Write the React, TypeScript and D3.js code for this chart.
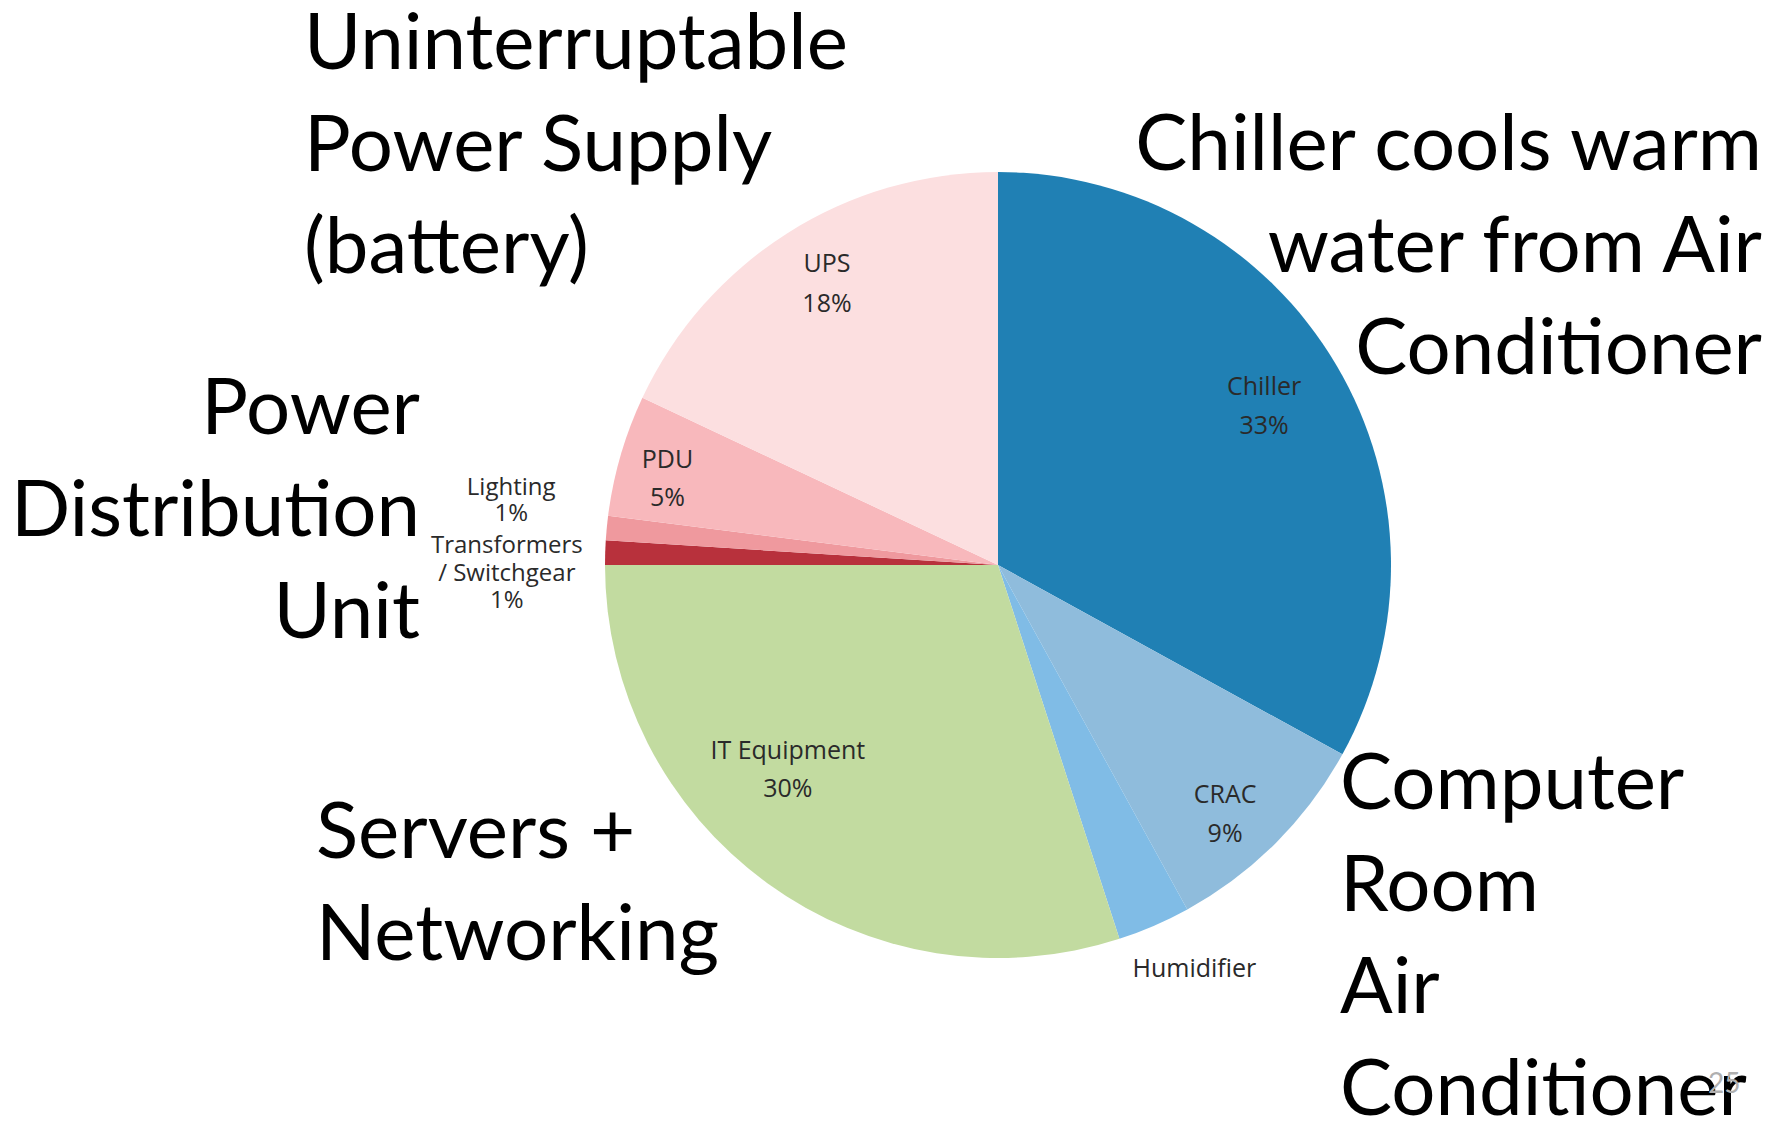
import React from "react";
import * as d3 from "d3";

// slices, clockwise from 12 o'clock
const categories = [
  "Chiller",
  "CRAC",
  "Humidifier",
  "IT Equipment",
  "Transformers / Switchgear",
  "Lighting",
  "PDU",
  "UPS",
];
const shares = [33, 9, 3, 30, 1, 1, 5, 18];
const sliceLabels = [
  ["Chiller", "33%"],
  ["CRAC", "9%"],
  ["Humidifier"],
  ["IT Equipment", "30%"],
  ["Transformers", "/ Switchgear", "1%"],
  ["Lighting", "1%"],
  ["PDU", "5%"],
  ["UPS", "18%"],
];
const sliceColors = [
  "#2080b4",
  "#8fbcdc",
  "#80bce6",
  "#c2dba0",
  "#b8313c",
  "#ef999e",
  "#f8b8bc",
  "#fcdfe0",
];

// big slide annotations
const notes = [
  ["Uninterruptable", "Power Supply", "(battery)"],
  ["Chiller cools warm", "water from Air", "Conditioner"],
  ["Power", "Distribution", "Unit"],
  ["Servers +", "Networking"],
  ["Computer", "Room", "Air", "Conditioner"],
];
const pageNumber = "25";

const width = 1785;
const height = 1121;
const cx = 998;
const cy = 565;
const radius = 393;

// where each slice label sits: fraction of radius, angle nudge (deg), line height, font size
const labelPlacement = {
  Chiller: { r: 0.79, da: -0.4, lh: 39, fs: 25 },
  CRAC: { r: 0.857, da: 2.6, lh: 39, fs: 25 },
  Humidifier: { r: 1.14, da: -2.6, lh: 39, fs: 25 },
  "IT Equipment": { r: 0.746, da: 9.8, lh: 38, fs: 25 },
  "Transformers / Switchgear": { r: 1.25, da: -2.6, lh: 28, fs: 24 },
  Lighting: { r: 1.25, da: 2.3, lh: 26, fs: 24 },
  PDU: { r: 0.87, da: -1.4, lh: 38, fs: 25 },
  UPS: { r: 0.84, da: 1.2, lh: 40, fs: 25 },
};

const noteLayout = [
  { x: 304, y: 69, anchor: "start" },
  { x: 1762, y: 170, anchor: "end" },
  { x: 420, y: 434, anchor: "end" },
  { x: 316, y: 858, anchor: "start" },
  { x: 1340, y: 809, anchor: "start" },
];
const noteLine = 102;

const App = () => {
  const pie = d3
    .pie<number>()
    .sort(null)
    .value((d) => d);
  const arcs = pie(shares);
  const arc = d3
    .arc<d3.PieArcDatum<number>>()
    .innerRadius(0)
    .outerRadius(radius);

  return (
    <svg
      width={width}
      height={height}
      style={{ position: "absolute", left: 0, top: 0, background: "#fff" }}
    >
      <g transform={`translate(${cx},${cy})`}>
        {arcs.map((a, i) => (
          <path key={categories[i]} d={arc(a) || ""} fill={sliceColors[i]} />
        ))}
        {arcs.map((a, i) => {
          const p = labelPlacement[categories[i]];
          const mid = (a.startAngle + a.endAngle) / 2 + (p.da * Math.PI) / 180;
          const rr = radius * p.r;
          const [lx, ly] = d3
            .arc()
            .innerRadius(rr)
            .outerRadius(rr)
            .centroid({ startAngle: mid, endAngle: mid } as any);
          const lines = sliceLabels[i];
          const y0 = ly - ((lines.length - 1) * p.lh) / 2 + p.fs * 0.36;
          return (
            <text
              key={"l" + i}
              x={lx}
              y={y0}
              textAnchor="middle"
              fontFamily="'Open Sans', sans-serif"
              fontSize={p.fs}
              fill="#2a2a2a"
            >
              {lines.map((t, j) => (
                <tspan key={j} x={lx} y={y0 + j * p.lh}>
                  {t}
                </tspan>
              ))}
            </text>
          );
        })}
      </g>
      {notes.map((lines, i) => {
        const n = noteLayout[i];
        return (
          <text
            key={"n" + i}
            textAnchor={n.anchor}
            fontFamily="Lato, sans-serif"
            fontSize={78}
            fill="#000"
          >
            {lines.map((t, j) => (
              <tspan key={j} x={n.x} y={n.y + j * noteLine}>
                {t}
              </tspan>
            ))}
          </text>
        );
      })}
      <text
        x={1708}
        y={1093}
        fontFamily="Lato, sans-serif"
        fontSize={28}
        fill="#b0b0b0"
      >
        {pageNumber}
      </text>
    </svg>
  );
};

export default App;
